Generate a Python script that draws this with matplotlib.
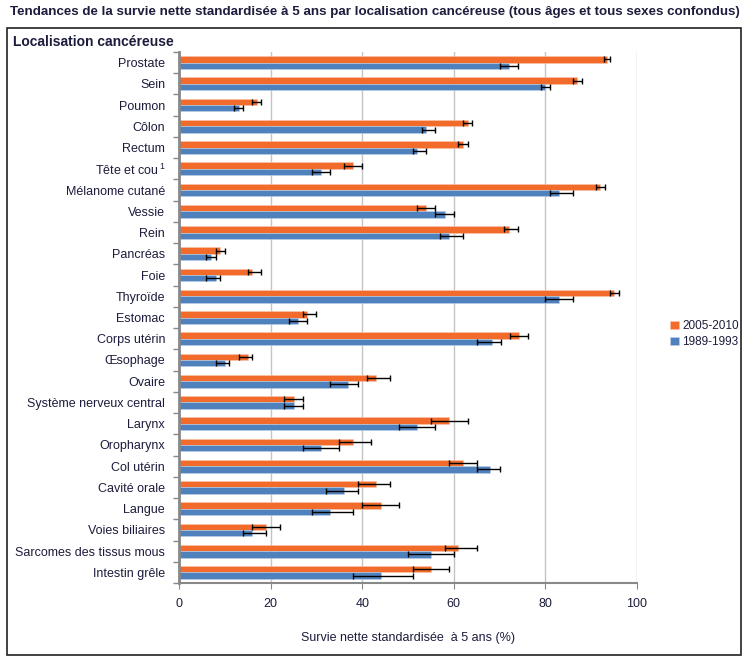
import numpy as np
import matplotlib
matplotlib.use("Agg")
import matplotlib.pyplot as plt
from matplotlib.patches import Rectangle

plt.rcParams['font.family'] = ['Liberation Sans', 'DejaVu Sans']
plt.rcParams['mathtext.fontset'] = 'custom'
plt.rcParams['mathtext.rm'] = 'Liberation Sans'

categories = ["Prostate", "Sein", "Poumon", "Côlon", "Rectum", "Tête et cou$^{\\,1}$",
              "Mélanome cutané", "Vessie", "Rein", "Pancréas", "Foie", "Thyroïde",
              "Estomac", "Corps utérin", "Œsophage", "Ovaire", "Système nerveux central",
              "Larynx", "Oropharynx", "Col utérin", "Cavité orale", "Langue",
              "Voies biliaires", "Sarcomes des tissus mous", "Intestin grêle"]

# 2005-2010: value, lower CI, upper CI
recent = [93.5, 87, 17, 63, 62, 38, 92, 54, 72, 9, 16, 95, 28, 74.3, 15, 43, 25,
          59, 38, 62, 43, 44, 19, 61, 55]
recent_lo = [92.8, 86, 16, 62, 61, 36, 91, 52, 71, 8, 15, 94, 27, 72.3, 13, 41, 23,
             55, 35, 59, 39, 40, 16, 58, 51]
recent_hi = [94, 88, 18, 64, 63, 40, 93, 56, 74, 10, 18, 96, 30, 76.3, 16, 46, 27,
             63, 42, 65, 46, 48, 22, 65, 59]

# 1989-1993
old = [72, 80, 13, 54, 52, 31, 83, 58, 59, 7, 8, 83, 26, 68.3, 10, 37, 25,
       52, 31, 68, 36, 33, 16, 55, 44]
old_lo = [70, 79, 12, 53, 51, 29, 81, 56, 57, 6, 6, 80, 24, 65, 8, 33, 23,
          48, 27, 65, 32, 29, 14, 50, 38]
old_hi = [74, 81, 14, 56, 54, 33, 86, 60, 62, 8, 9, 86, 28, 70.4, 11, 39, 27,
          56, 35, 70, 39, 38, 19, 60, 51]

orange = "#F26B2A"
blue = "#4F81BD"
txt = "#1c1c3c"

fig = plt.figure(figsize=(7.52, 6.64), dpi=100)
ax = fig.add_axes([179 / 752, 1 - 583 / 664, (637 - 179) / 752, (583 - 52) / 664])

n = len(categories)
y = np.arange(n)
h = 0.3
r = np.array(recent)
o = np.array(old)
ax.barh(y - h / 2, r, height=h, color=orange, edgecolor="#f7c7b0", linewidth=0.4,
        label="2005-2010", zorder=2)
ax.barh(y + h / 2, o, height=h, color=blue, edgecolor="#bcd0e8", linewidth=0.4,
        label="1989-1993", zorder=2)
ax.errorbar(r, y - h / 2, xerr=[r - np.array(recent_lo), np.array(recent_hi) - r],
            fmt="none", ecolor="black", elinewidth=1, capsize=2.5, capthick=1, zorder=3)
ax.errorbar(o, y + h / 2, xerr=[o - np.array(old_lo), np.array(old_hi) - o],
            fmt="none", ecolor="black", elinewidth=1, capsize=2.5, capthick=1, zorder=3)

ax.set_xlim(0, 100)
ax.set_ylim(n - 0.5, -0.5)
ax.set_xticks(np.arange(0, 101, 20))
ax.set_yticks(y)
ax.set_yticklabels(categories)
ax.set_yticks(np.arange(n + 1) - 0.5, minor=True)
ax.tick_params(axis="y", which="major", length=0, pad=10, labelsize=9, labelcolor=txt)
ax.tick_params(axis="y", which="minor", length=4, color="#888888", width=1)
ax.tick_params(axis="x", length=4, color="#888888", pad=7, labelsize=9, labelcolor=txt)
ax.grid(axis="x", color="#C4C4C4", linewidth=1, zorder=0)
ax.set_axisbelow(True)
for s in ["top", "right"]:
    ax.spines[s].set_visible(False)
ax.spines["left"].set_color("#888888")
ax.spines["left"].set_linewidth(2)
ax.spines["bottom"].set_color("#888888")
ax.spines["bottom"].set_linewidth(1.5)
ax.set_xlabel("Survie nette standardisée  à 5 ans (%)", fontsize=9, color=txt, labelpad=16)

ax.legend(loc="center left", bbox_to_anchor=(662 / 752, 1 - 334 / 664),
          bbox_transform=fig.transFigure, frameon=False, fontsize=8.5,
          handlelength=0.7, handleheight=0.7, handletextpad=0.3, labelspacing=0.35,
          labelcolor=txt, borderpad=0.2)

fig.patches.append(Rectangle((7 / 752, 1 - 655 / 664), (741 - 7) / 752, (655 - 28) / 664,
                             transform=fig.transFigure, fill=False, edgecolor="#222222",
                             linewidth=1.2))
fig.text(10 / 752, 1 - 12 / 664,
         "Tendances de la survie nette standardisée à 5 ans par localisation cancéreuse "
         "(tous âges et tous sexes confondus)",
         fontsize=9.6, fontweight="bold", color=txt, va="center", ha="left")
fig.text(13 / 752, 1 - 42 / 664, "Localisation cancéreuse", fontsize=10,
         fontweight="bold", color=txt, va="center", ha="left")

fig.savefig("out.png", dpi=100)
